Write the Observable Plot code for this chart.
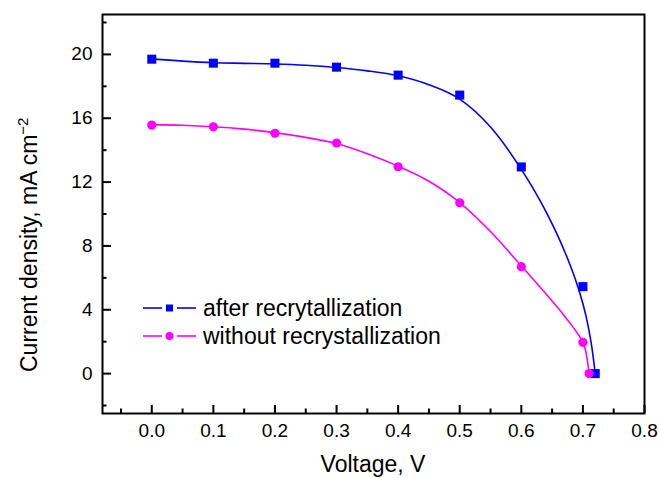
<!DOCTYPE html>
<html>
<head>
<meta charset="utf-8">
<script src="https://cdn.jsdelivr.net/npm/d3@7"></script>
<script src="https://cdn.jsdelivr.net/npm/@observablehq/plot@0.6"></script>
<style>
  html, body { margin: 0; padding: 0; background: #fff; }
  #wrap { position: relative; width: 659px; height: 478px; font-family: "Liberation Sans", Arial, sans-serif; }
  #legend { position: absolute; left: 0; top: 0; pointer-events: none; }
</style>
</head>
<body>
<div id="wrap"></div>
<script>
// ---- data ----
const seriesNames = ["after recrytallization", "without recrystallization"];
const seriesColors = ["#0000ff", "#ff00ff"];

const afterV = [0, 0.1, 0.2, 0.3, 0.4, 0.5, 0.6, 0.7, 0.72];
const afterJ = [19.7, 19.45, 19.45, 19.2, 18.7, 17.45, 12.95, 5.45, 0];

const withoutV = [0, 0.1, 0.2, 0.3, 0.4, 0.5, 0.6, 0.7, 0.71];
const withoutJ = [15.57, 15.46, 15.06, 14.45, 12.96, 10.7, 6.7, 1.96, 0];

// fitted curves
const fitAfterV = [0, 0.05, 0.1, 0.15, 0.2, 0.25, 0.3, 0.35, 0.4, 0.45, 0.5, 0.55, 0.6,
  0.61, 0.62, 0.63, 0.64, 0.65, 0.66, 0.67, 0.68, 0.69, 0.7, 0.705, 0.71, 0.715, 0.72];
const fitAfterJ = [19.72, 19.58, 19.48, 19.44, 19.4, 19.32, 19.18, 18.97, 18.66, 18.1, 17.2, 15.45, 12.8,
  12.19, 11.545, 10.865, 10.145, 9.38, 8.565, 7.685, 6.725, 5.65, 4.375, 3.6, 2.675, 1.525, 0];

const fitWithoutV = [0, 0.05, 0.1, 0.15, 0.2, 0.25, 0.3, 0.35, 0.4, 0.45, 0.5, 0.55, 0.6,
  0.61, 0.62, 0.63, 0.64, 0.65, 0.66, 0.67, 0.68, 0.69, 0.7, 0.7025, 0.705, 0.7075, 0.71];
const fitWithoutJ = [15.6, 15.56, 15.47, 15.32, 15.1, 14.8, 14.42, 13.78, 13.0, 12.05, 10.72, 8.9, 6.75,
  6.32, 5.885, 5.445, 5.0, 4.55, 4.09, 3.615, 3.12, 2.585, 1.96, 1.71, 1.335, 0.76, 0];

const xTicks = [0, 0.1, 0.2, 0.3, 0.4, 0.5, 0.6, 0.7, 0.8];
const xMinor = [-0.05, 0.05, 0.15, 0.25, 0.35, 0.45, 0.55, 0.65, 0.75];
const yTicks = [0, 4, 8, 12, 16, 20];
const yMinor = [-2, 2, 6, 10, 14, 18, 22];

const xTitle = "Voltage, V";
const yTitle = "Current density, mA cm";
const yTitleSup = "\u22122";

// ---- build tables ----
const pts = (xs, ys, s) => xs.map((x, i) => ({x, y: ys[i], s}));
const afterPts = pts(afterV, afterJ, seriesNames[0]);
const withoutPts = pts(withoutV, withoutJ, seriesNames[1]);
const afterFit = pts(fitAfterV, fitAfterJ, seriesNames[0]);
const withoutFit = pts(fitWithoutV, fitWithoutJ, seriesNames[1]);

const W = 659, H = 478;
const mL = 102, mR = 15, mT = 14, mB = 65;
const plotW = W - mL - mR, plotH = H - mT - mB;

const chart = Plot.plot({
  width: W, height: H,
  marginLeft: mL, marginRight: mR, marginTop: mT, marginBottom: mB,
  style: {fontFamily: '"Liberation Sans", Arial, sans-serif', fontSize: "19px", color: "#000", background: "#fff"},
  x: {domain: [-0.08, 0.8], ticks: xTicks, tickFormat: d3.format(".1f"), tickSize: 0, tickPadding: 10, label: null},
  y: {domain: [-2.5, 22.5], ticks: yTicks, tickFormat: d3.format("d"), tickSize: 0, tickPadding: 10, label: null},
  marks: [
    Plot.line(afterFit, {x: "x", y: "y", stroke: seriesColors[0], strokeWidth: 1.6, curve: "monotone-x"}),
    Plot.line(withoutFit, {x: "x", y: "y", stroke: seriesColors[1], strokeWidth: 1.6, curve: "monotone-x"}),
    Plot.dot(afterPts, {x: "x", y: "y", symbol: "square", r: 5.1, fill: seriesColors[0], stroke: "none"}),
    Plot.dot(withoutPts, {x: "x", y: "y", symbol: "circle", r: 4.6, fill: seriesColors[1], stroke: "none"}),
    Plot.tickX(xTicks, {x: d => d, insetTop: plotH - 8, stroke: "#000", strokeWidth: 2}),
    Plot.tickX(xMinor, {x: d => d, insetTop: plotH - 4.5, stroke: "#000", strokeWidth: 2}),
    Plot.tickY(yTicks, {y: d => d, insetRight: plotW - 9, stroke: "#000", strokeWidth: 2}),
    Plot.tickY(yMinor, {y: d => d, insetRight: plotW - 4.5, stroke: "#000", strokeWidth: 2}),
    Plot.frame({stroke: "#000", strokeWidth: 2})
  ]
});

document.getElementById("wrap").appendChild(chart);

// axis titles
const svg = d3.select(chart);
svg.append("text")
  .attr("x", mL + plotW / 2).attr("y", 472)
  .attr("text-anchor", "middle")
  .attr("font-size", 23).attr("fill", "#000")
  .text(xTitle);

const yt = svg.append("text")
  .attr("transform", "translate(37,372) rotate(-90)")
  .attr("text-anchor", "start")
  .attr("font-size", 23).attr("fill", "#000");
yt.append("tspan").text(yTitle);
yt.append("tspan").attr("dy", -9).attr("font-size", 15).text(yTitleSup);

// legend overlay
const leg = d3.select("#wrap").append("svg")
  .attr("id", "legend").attr("width", W).attr("height", H)
  .attr("font-family", '"Liberation Sans", Arial, sans-serif');
const rows = [
  {name: seriesNames[0], color: seriesColors[0], sym: "square", cy: 308},
  {name: seriesNames[1], color: seriesColors[1], sym: "circle", cy: 336}
];
rows.forEach(r => {
  const g = leg.append("g");
  g.append("line").attr("x1", 143).attr("x2", 162).attr("y1", r.cy).attr("y2", r.cy).attr("stroke", r.color).attr("stroke-width", 1.6);
  g.append("line").attr("x1", 177).attr("x2", 196).attr("y1", r.cy).attr("y2", r.cy).attr("stroke", r.color).attr("stroke-width", 1.6);
  if (r.sym === "square") {
    g.append("rect").attr("x", 166).attr("y", r.cy - 3.5).attr("width", 7).attr("height", 7).attr("fill", r.color);
  } else {
    g.append("circle").attr("cx", 169.5).attr("cy", r.cy).attr("r", 4).attr("fill", r.color);
  }
  g.append("text").attr("x", 203).attr("y", r.cy).attr("dy", "0.35em")
    .attr("font-size", 23).attr("fill", "#000").text(r.name);
});
</script>
</body>
</html>
